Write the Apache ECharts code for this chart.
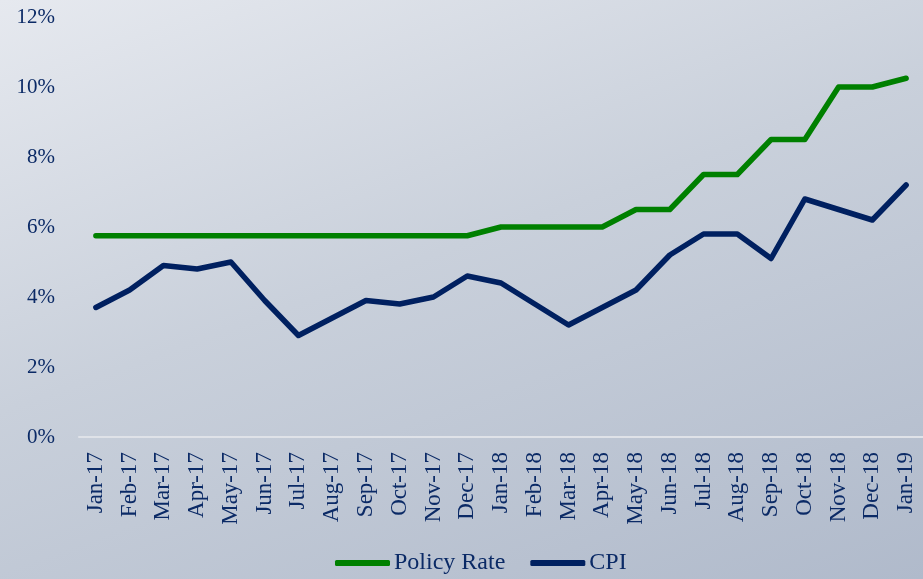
<!DOCTYPE html>
<html>
<head>
<meta charset="utf-8">
<script src="https://cdn.jsdelivr.net/npm/echarts@6/dist/echarts.min.js"></script>
<style>
  html, body { margin: 0; padding: 0; }
  #chart {
    width: 923px;
    height: 579px;
    background: linear-gradient(160deg, #e6e9ef 0%, #c9d0db 45%, #b0bacb 100%);
  }
</style>
</head>
<body>
<div id="chart"></div>
<script>
  // 月份
  const months = ['Jan-17', 'Feb-17', 'Mar-17', 'Apr-17', 'May-17', 'Jun-17', 'Jul-17', 'Aug-17',
    'Sep-17', 'Oct-17', 'Nov-17', 'Dec-17', 'Jan-18', 'Feb-18', 'Mar-18', 'Apr-18', 'May-18',
    'Jun-18', 'Jul-18', 'Aug-18', 'Sep-18', 'Oct-18', 'Nov-18', 'Dec-18', 'Jan-19'];

  const policyRate = [5.75, 5.75, 5.75, 5.75, 5.75, 5.75, 5.75, 5.75, 5.75, 5.75, 5.75, 5.75,
    6.0, 6.0, 6.0, 6.0, 6.5, 6.5, 7.5, 7.5, 8.5, 8.5, 10.0, 10.0, 10.25];

  const cpi = [3.7, 4.2, 4.9, 4.8, 5.0, 3.9, 2.9, 3.4, 3.9, 3.8, 4.0, 4.6,
    4.4, 3.8, 3.2, 3.7, 4.2, 5.2, 5.8, 5.8, 5.1, 6.8, 6.5, 6.2, 7.2];

  const textColor = '#0b2a66';
  const font = '"Liberation Serif", "Times New Roman", serif';

  const myChart = echarts.init(document.getElementById('chart'));

  const option = {
    textStyle: { fontFamily: font },
    legend: {
      data: ['Policy Rate', 'CPI'],
      bottom: -1,
      left: 330,
      itemWidth: 55,
      itemHeight: 6,
      itemGap: 25,
      icon: 'roundRect',
      textStyle: { color: textColor, fontSize: 24, fontFamily: font, padding: [0, 0, 0, -1] }
    },
    grid: {
      left: 79,
      right: -4,
      top: 17,
      bottom: 142
    },
    xAxis: {
      type: 'category',
      data: months,
      boundaryGap: true,
      axisLine: { lineStyle: { color: '#dfe2e8', width: 2 } },
      axisTick: { show: false },
      axisLabel: {
        rotate: 90,
        color: textColor,
        fontSize: 23,
        fontFamily: font,
        margin: 15,
        interval: 0
      }
    },
    yAxis: {
      type: 'value',
      min: 0,
      max: 12,
      interval: 2,
      axisLine: { show: false },
      axisTick: { show: false },
      splitLine: { show: false },
      axisLabel: {
        formatter: '{value}%',
        color: textColor,
        fontSize: 21,
        fontFamily: font,
        margin: 24
      }
    },
    series: [
      {
        name: 'Policy Rate',
        type: 'line',
        data: policyRate,
        symbol: 'none',
        lineStyle: { color: '#008000', width: 5.5, cap: 'round', join: 'round' },
        itemStyle: { color: '#008000' }
      },
      {
        name: 'CPI',
        type: 'line',
        data: cpi,
        symbol: 'none',
        lineStyle: { color: '#002060', width: 5.5, cap: 'round', join: 'round' },
        itemStyle: { color: '#002060' }
      }
    ]
  };

  myChart.setOption(option);
</script>
</body>
</html>
